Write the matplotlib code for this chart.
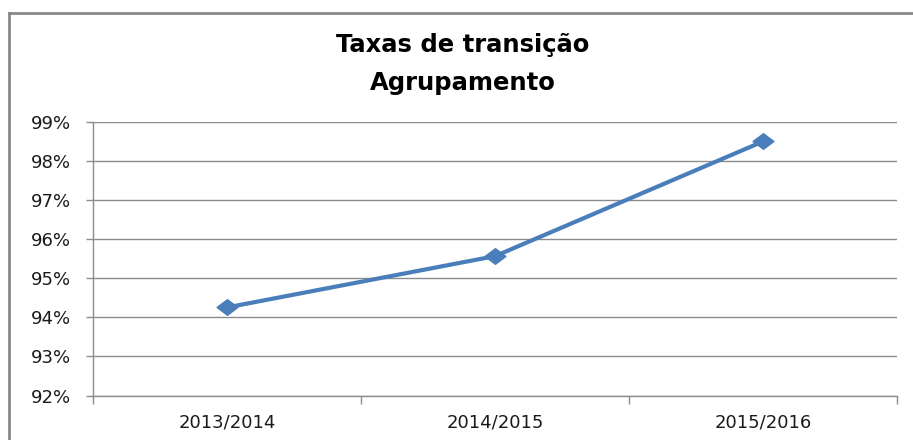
import numpy as np
import matplotlib.pyplot as plt
from matplotlib.path import Path
from matplotlib.lines import Line2D
from matplotlib.ticker import FuncFormatter, FixedLocator

# dados
anos = ['2013/2014', '2014/2015', '2015/2016']
taxas = [94.25, 95.56, 98.49]
y_ticks = [92, 93, 94, 95, 96, 97, 98, 99]

plt.rcParams['font.family'] = ['DejaVu Sans']

fig = plt.figure(figsize=(9.13, 4.4), dpi=100)
ax = fig.add_axes([93 / 913, 1 - 395.5 / 440, (897 - 93) / 913, (395.5 - 121.5) / 440])

# losango achatado estilo excel
losango = Path([(-1, 0), (0, 0.75), (1, 0), (0, -0.75), (-1, 0)],
               [Path.MOVETO, Path.LINETO, Path.LINETO, Path.LINETO, Path.CLOSEPOLY])

x = np.arange(len(anos))
ax.plot(x, taxas, color='#4a7ebb', lw=3, marker=losango, markersize=15,
        markerfacecolor='#4a7ebb', markeredgecolor='#4a7ebb', solid_capstyle='round', zorder=3)

ax.set_xlim(-0.5, len(anos) - 0.5)
ax.set_ylim(92, 99)
ax.set_yticks(y_ticks)
ax.yaxis.set_major_formatter(FuncFormatter(lambda v, p: f'{v:.0f}%'))
ax.grid(axis='y', color='#8c8c8c', lw=1)
ax.set_axisbelow(True)

ax.set_xticks(x)
ax.set_xticklabels(anos)
ax.xaxis.set_minor_locator(FixedLocator(np.arange(len(anos) + 1) - 0.5))
ax.tick_params(axis='x', which='major', length=0, pad=13, labelsize=13, labelcolor='#1a1a1a')
ax.tick_params(axis='x', which='minor', length=6, color='#8c8c8c', width=1)
ax.tick_params(axis='y', length=5, color='#8c8c8c', width=1, pad=11, labelsize=13, labelcolor='#1a1a1a')

for s in ['top', 'right']:
    ax.spines[s].set_visible(False)
for s in ['left', 'bottom']:
    ax.spines[s].set_color('#8c8c8c')
    ax.spines[s].set_linewidth(1)

fig.text(463 / 913, 1 - 64 / 440, 'Taxas de transição\nAgrupamento', ha='center', va='center',
         fontsize=17.5, fontweight='bold', linespacing=1.75)

# moldura do grafico
fig.add_artist(Line2D([9 / 913, 1], [1 - 13 / 440] * 2, color='#888888', lw=2))
fig.add_artist(Line2D([9 / 913] * 2, [0, 1 - 13 / 440], color='#888888', lw=2))

fig.savefig('out.png', dpi=100)
